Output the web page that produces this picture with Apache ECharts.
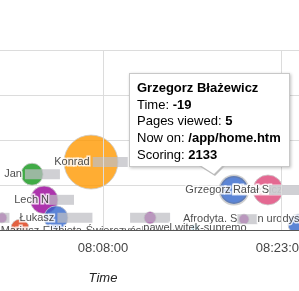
<!DOCTYPE html>
<html>
<head>
<meta charset="utf-8">
<script src="https://cdn.jsdelivr.net/npm/echarts@6/dist/echarts.min.js"></script>
<style>
html,body{margin:0;padding:0;background:#fff;}
#chart{width:299px;height:291px;}
</style>
</head>
<body>
<div id="chart"></div>
<script>
// visitors on the site right now (part of each name is pixelated in the source)
var names   = ['Konrad ', '-Mariusz-Elżbieta-Świerczyńska', 'Lech N', 'Grzegorz Błażewicz', 'Rafał S', 'Łukasz ', 'Jan ', '', '', '', 'Afrodyta. S', '', 'pawel.witek-supremo'];
var masked  = [7, 0, 5, 0, 7, 7, 7, 0, 0, 8, 4, 3, 0];
var tails   = ['', '', '', '', '', '', '', '', '', '', 'n urodysz', '', ''];
var times   = ['08:06:59', '08:05:38', '08:03:02', '08:19:02', '08:21:54', '08:04:02', '08:02:01', '08:24:26', '08:01:00', '08:11:58', '08:19:53', '07:59:29', '08:15:45'];
var levels  = [1.51, -0.02, 0.67, 0.89, 0.89, 0.27, 1.24, 0.13, 0.04, 0.27, 0.24, 0.27, 0.04];
var scores  = [7940, 60, 2100, 2133, 2450, 1568, 1318, 1089, 882, 392, 272, 272, 174];
var groups  = [2, 1, 4, 0, 6, 0, 3, 0, 1, 4, 4, 4, 5];
var xTicks  = ['08:08:00', '08:23:00'];
var xRange  = ['07:59:19', '08:24:31'];

// the bubble under the mouse
var hoverIndex = 3;
var hoverTime = -19;
var hoverPages = 5;
var hoverNowOn = '/app/home.htm';

var palette = ['#3366cc', '#dc3912', '#ff9900', '#109618', '#990099', '#0099c6', '#dd4477'];

function toMin(s){
	var p = s.split(':');
	return +p[0] * 60 + +p[1] + +p[2] / 60;
}
function pad(n){ return (n < 10 ? '0' : '') + n; }
function fmt(v){
	var s = Math.round(v * 60);
	return pad(Math.floor(s / 3600)) + ':' + pad(Math.floor(s % 3600 / 60)) + ':' + pad(s % 60);
}

var data = times.map(function(t, i){
	var item = {
		name: names[i],
		value: [toMin(t), levels[i], scores[i]],
		itemStyle: {color: palette[groups[i]]},
		idx: i
	};
	if (i == hoverIndex) {
		item.itemStyle.borderColor = 'rgba(110,110,110,0.4)';
		item.itemStyle.borderWidth = 3;
	}
	// Rafał's label sits on top of the hovered one and hides its tail
	if (i == hoverIndex + 1) {
		item.label = {backgroundColor: 'rgba(255,255,255,0.9)', padding: [0, 0, 0, 1]};
	}
	return item;
});

var chart = echarts.init(document.getElementById('chart'));
chart.setOption({
	animation: false,
	grid: {left: 0, right: 0, top: 50, bottom: 61, outerBoundsMode: 'none'},
	tooltip: {
		trigger: 'item',
		alwaysShowContent: true,
		transitionDuration: 0,
		showDelay: 0,
		padding: [6, 7, 2, 7],
		borderColor: '#c8c8c8',
		borderWidth: 1,
		backgroundColor: '#fff',
		extraCssText: 'border-radius:0;box-shadow:1px 1px 3px rgba(0,0,0,0.25);overflow:visible;',
		position: function(){ return [129, 73]; },
		formatter: function(p){
			var b = function(s){ return '<b>' + s + '</b>'; };
			return '<div style="position:relative;width:145px;font:13px Arial,\'Liberation Sans\',sans-serif;line-height:16.7px;color:#000;">' +
				b(p.name) + '<br>' +
				'Time: ' + b(hoverTime) + '<br>' +
				'Pages viewed: ' + b(hoverPages) + '<br>' +
				'Now on: ' + b(hoverNowOn) + '<br>' +
				'Scoring: ' + b(p.value[2]) +
				'<div style="position:absolute;left:62px;bottom:-12px;width:0;height:0;border-top:10px solid #bbb;border-right:10px solid transparent;border-left:16px solid transparent;"></div>' +
				'<div style="position:absolute;left:63px;bottom:-10px;width:0;height:0;border-top:9px solid #fff;border-right:9px solid transparent;border-left:14px solid transparent;"></div>' +
				'</div>';
		}
	},
	xAxis: {
		type: 'value',
		min: toMin(xRange[0]),
		max: toMin(xRange[1]),
		z: 20,
		axisLine: {show: true, lineStyle: {color: '#555'}},
		axisTick: {show: false, customValues: xTicks.map(toMin)},
		axisLabel: {customValues: xTicks.map(toMin), formatter: fmt, color: '#444', fontSize: 13, fontFamily: 'Arial, "Liberation Sans"', margin: 12, hideOverlap: false},
		splitLine: {show: true, lineStyle: {color: '#dcdcdc'}}
	},
	yAxis: {
		type: 'value',
		min: 0,
		max: 4,
		interval: 1,
		axisLine: {show: false},
		axisTick: {show: false},
		axisLabel: {show: false},
		splitLine: {lineStyle: {color: '#dcdcdc'}}
	},
	graphic: [
		{type: 'rect', left: 0, top: 231, z: 10, shape: {width: 299, height: 60}, style: {fill: '#fff'}},
		{type: 'text', x: 103, y: 278, z: 20, style: {text: 'Time', font: 'italic 13px Arial, "Liberation Sans"', fill: '#222', align: 'center', verticalAlign: 'middle'}}
	],
	series: [{
		type: 'scatter',
		clip: false,
		data: data,
		symbolSize: function(v){ return Math.sqrt(v[2]) * 0.606; },
		itemStyle: {opacity: 0.8, borderColor: '#ccc', borderWidth: 1},
		emphasis: {disabled: true},
		label: {
			show: true,
			position: 'inside',
			fontSize: 11,
			fontFamily: 'Arial, "Liberation Sans"',
			color: '#222',
			textBorderColor: '#fff',
			textBorderWidth: 3,
			formatter: function(p){
				var i = p.data.idx;
				var s = names[i];
				if (masked[i]) s += '{m|' + new Array(masked[i] + 1).join('x') + '}';
				if (tails[i]) s += tails[i];
				return s;
			},
			rich: {
				m: {color: 'rgba(0,0,0,0)', textBorderWidth: 0, backgroundColor: 'rgba(190,190,195,0.9)', height: 10, fontSize: 10}
			}
		}
	}]
});
chart.dispatchAction({type: 'showTip', seriesIndex: 0, dataIndex: hoverIndex});
</script>
</body>
</html>
